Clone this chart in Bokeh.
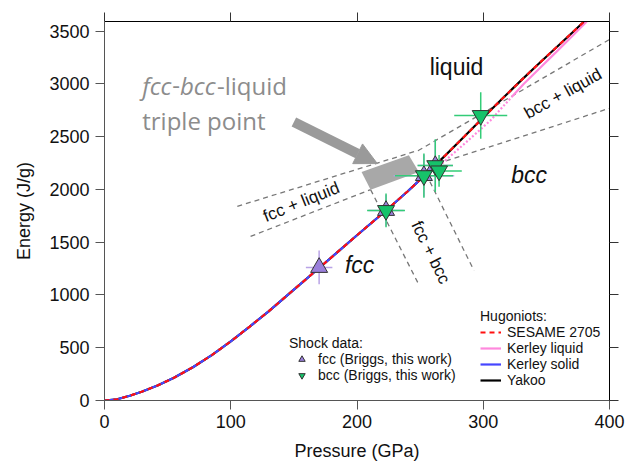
from bokeh.plotting import figure
from bokeh.models import (LinearAxis, FixedTicker, Label, Legend, LegendItem,
                          Arrow, NormalHead, Range1d, CustomLabelingPolicy)
from bokeh.embed import file_html
from bokeh.resources import INLINE
import math

# ---------------- data ----------------
x_ticks = [0, 100, 200, 300, 400]
y_ticks = [0, 500, 1000, 1500, 2000, 2500, 3000, 3500]

# Hugoniots (Pressure GPa, Energy J/g)
yakoo_P = [0, 10, 20, 30, 42, 55, 70, 85, 100, 115, 130, 150, 170, 185, 200, 223,
           240, 253, 270, 285, 300, 315, 330, 345, 360, 380]
yakoo_E = [0, 12, 45, 85, 142, 215, 315, 430, 560, 700, 845, 1050, 1255, 1410, 1565, 1800,
           1980, 2125, 2322, 2500, 2680, 2858, 3032, 3202, 3368, 3590]
sesame_P = [0, 10, 20, 30, 42, 55, 70, 85, 100, 115, 130, 150, 170, 185, 200, 223,
            240, 253, 270, 285, 300, 315, 330, 345, 360, 380]
sesame_E = [0, 12, 45, 85, 142, 215, 315, 430, 560, 700, 845, 1050, 1255, 1410, 1565, 1800,
            1980, 2125, 2322, 2500, 2680, 2858, 3032, 3202, 3368, 3590]
kerley_solid_P = [0, 10, 20, 30, 42, 55, 70, 85, 100, 115, 130, 150, 170, 185, 200, 223,
                  240, 253, 265]
kerley_solid_E = [0, 12, 45, 85, 142, 215, 315, 430, 560, 700, 845, 1050, 1255, 1410, 1565,
                  1800, 1980, 2125, 2264]
kerley_liq_meta_P = [267.4, 286.8, 305.8, 322.5]
kerley_liq_meta_E = [2246, 2450, 2654, 2875]
kerley_liq_P = [322.5, 332.2, 344.9, 357.7, 370.4, 382.0]
kerley_liq_E = [2875, 3000, 3150, 3300, 3450, 3590]

# Shock data (Briggs, this work)
fcc_P = [170, 223, 253, 262]
fcc_E = [1260, 1800, 2130, 2225]
fcc_dP = [10.5, 14, 24, 14]
fcc_dE = [160, 150, 200, 240]
bcc_P = [223, 253, 262, 265, 298]
bcc_E = [1800, 2130, 2225, 2175, 2700]
bcc_dP = [15, 23, 14, 18, 21]
bcc_dE = [160, 210, 250, 150, 220]

# Phase boundaries
bnd_upper_P = [105.2, 248.9, 400.0]
bnd_upper_E = [1839, 2370, 3420]
bnd_bccliq_P = [263.7, 400.0]
bnd_bccliq_E = [2244, 2768]
bnd_fccliq_P = [115.7, 210.8]
bnd_fccliq_E = [1555, 1997]
bnd_fccbcc1_P = [210.8, 248.5]
bnd_fccbcc1_E = [1997, 1109]
bnd_fccbcc2_P = [254.6, 292.6]
bnd_fccbcc2_E = [2149, 1232]

# Triple-point region
triple_P = [203.6, 241.1, 249.0, 210.8]
triple_E = [2164, 2322, 2164, 1997]

# ---------------- figure ----------------
FONT = "Liberation Sans"
p = figure(width=635, height=464, x_range=Range1d(0, 400), y_range=Range1d(0, 3590),
           output_backend="svg", toolbar_location=None,
           min_border_left=104, min_border_right=26, min_border_top=21, min_border_bottom=64,
           x_axis_label="Pressure (GPa)", y_axis_label="Energy (J/g)")
p.xgrid.visible = False
p.ygrid.visible = False
p.outline_line_color = None
p.background_fill_color = "white"
p.border_fill_color = "white"

for ax, ticks in ((p.xaxis[0], x_ticks), (p.yaxis[0], y_ticks)):
    ax.ticker = FixedTicker(ticks=ticks)
    ax.major_tick_out = 9
    ax.major_tick_in = 0
    ax.minor_tick_out = 0
    ax.minor_tick_in = 0
    ax.axis_line_color = "#555555"
    ax.major_tick_line_color = "#555555"
    ax.major_label_text_font = FONT
    ax.major_label_text_font_size = "18px"
    ax.major_label_text_color = "#111111"
    ax.axis_label_text_font = FONT
    ax.axis_label_text_font_size = "18px"
    ax.axis_label_text_font_style = "normal"
    ax.axis_label_text_color = "#111111"
p.xaxis[0].major_label_standoff = 5
p.xaxis[0].axis_label_standoff = 10
p.yaxis[0].major_label_standoff = 6
p.yaxis[0].axis_label_standoff = 12

no_labels = CustomLabelingPolicy(code="""
    const all = [...indices]
    for (const i of all) { indices.unset(i) }
    return indices
""")
for loc, ticks in (("right", y_ticks), ("above", x_ticks)):
    ax = LinearAxis(ticker=FixedTicker(ticks=ticks), major_label_text_font_size="1px",
                    major_label_policy=no_labels,
                    major_label_standoff=0, major_tick_out=9, major_tick_in=0,
                    minor_tick_out=0, minor_tick_in=0, axis_line_color="black",
                    major_tick_line_color="#333333")
    p.add_layout(ax, loc)

# phase boundaries
dash_kw = dict(line_color="#777777", line_width=1.3, line_dash="5 4")
for bx, by in ((bnd_upper_P, bnd_upper_E), (bnd_bccliq_P, bnd_bccliq_E),
               (bnd_fccliq_P, bnd_fccliq_E), (bnd_fccbcc1_P, bnd_fccbcc1_E),
               (bnd_fccbcc2_P, bnd_fccbcc2_E)):
    p.line(bx, by, **dash_kw)

p.patch(triple_P, triple_E, fill_color="#a8a8a8", line_color=None)

# arrow
p.add_layout(Arrow(end=NormalHead(size=22, fill_color="#9a9a9a", line_color="#9a9a9a"),
                   x_start=150.0, y_start=2638, x_end=216.1, y_end=2244,
                   line_width=10, line_color="#9a9a9a"))

# Hugoniots
r_yak = p.line(yakoo_P, yakoo_E, line_color="black", line_width=2.2)
r_ks = p.line(kerley_solid_P, kerley_solid_E, line_color="#4646ff", line_width=2.2)
p.line(kerley_liq_meta_P, kerley_liq_meta_E, line_color="#ff88dd", line_width=2.2, line_dash="2 2")
r_kl = p.line(kerley_liq_P, kerley_liq_E, line_color="#ff88dd", line_width=2.2)
r_ses = p.line(sesame_P, sesame_E, line_color="#ff1010", line_width=2.2, line_dash="5 4")

# error bars
p.segment(x0=[a - b for a, b in zip(fcc_P, fcc_dP)], x1=[a + b for a, b in zip(fcc_P, fcc_dP)],
          y0=fcc_E, y1=fcc_E, line_color="#b9a3e6", line_width=1.5)
p.segment(x0=fcc_P, x1=fcc_P, y0=[a - b for a, b in zip(fcc_E, fcc_dE)],
          y1=[a + b for a, b in zip(fcc_E, fcc_dE)], line_color="#b9a3e6", line_width=1.5)
p.segment(x0=[a - b for a, b in zip(bcc_P, bcc_dP)], x1=[a + b for a, b in zip(bcc_P, bcc_dP)],
          y0=bcc_E, y1=bcc_E, line_color="#33cc77", line_width=1.5)
p.segment(x0=bcc_P, x1=bcc_P, y0=[a - b for a, b in zip(bcc_E, bcc_dE)],
          y1=[a + b for a, b in zip(bcc_E, bcc_dE)], line_color="#33cc77", line_width=1.5)

r_fcc = p.scatter(fcc_P, fcc_E, marker="triangle", size=17, fill_color="#9a7fdb",
                  line_color="#333333", line_width=1)
r_bcc = p.scatter(bcc_P, bcc_E, marker="inverted_triangle", size=17, fill_color="#16c26a",
                  line_color="#333333", line_width=1)

# texts
def lab(x, y, t, size, style="normal", color="#111111", angle=0.0, align="center",
        baseline="middle", font=FONT):
    p.add_layout(Label(x=x, y=y, text=t, text_font=font, text_font_size=size,
                       text_font_style=style, text_color=color, angle=angle,
                       text_align=align, text_baseline=baseline))

lab(278.8, 3160, "liquid", "23px")
lab(336.3, 2133, "bcc", "23px", style="italic")
lab(202.1, 1280, "fcc", "23px", style="italic")
lab(155.9, 1880, "fcc + liquid", "17px", angle=math.radians(22))
lab(363.2, 2907, "bcc + liquid", "17px", angle=math.radians(29))
lab(258.4, 1403, "fcc + bcc", "17px", angle=math.radians(-64))

G = "#8c8c8c"
lab(29.9, 2986, "fcc", "24px", style="italic", color=G, align="left", font="Open Sans")
lab(53.7, 2986, "-", "24px", color=G, align="left", font="Open Sans")
lab(59.8, 2986, "bcc", "24px", style="italic", color=G, align="left", font="Open Sans")
lab(89.1, 2986, "-liquid", "24px", color=G, align="left", font="Open Sans")
lab(29.9, 2654, "triple point", "24px", color=G, align="left", font="Open Sans")

# legends
common = dict(padding=0, margin=0, border_line_color=None, background_fill_alpha=0,
              label_text_font=FONT, label_text_font_size="14px", label_text_color="#111111",
              title_text_font=FONT, title_text_font_size="14px", title_text_font_style="normal",
              title_text_color="#111111", title_standoff=0, spacing=0, label_height=14)
leg1 = Legend(items=[LegendItem(label="fcc (Briggs, this work)", renderers=[r_fcc]),
                     LegendItem(label="bcc (Briggs, this work)", renderers=[r_bcc])],
              location=(185, 17), title="Shock data:", glyph_width=25, glyph_height=16,
              label_standoff=4, **common)
leg2 = Legend(items=[LegendItem(label="SESAME 2705", renderers=[r_ses]),
                     LegendItem(label="Kerley liquid", renderers=[r_kl]),
                     LegendItem(label="Kerley solid", renderers=[r_ks]),
                     LegendItem(label="Yakoo", renderers=[r_yak])],
              location=(376, 12), title="Hugoniots:", glyph_width=21, glyph_height=14,
              label_standoff=6, **common)
p.add_layout(leg1)
p.add_layout(leg2)

open("out.html", "w").write(file_html(p, INLINE))
